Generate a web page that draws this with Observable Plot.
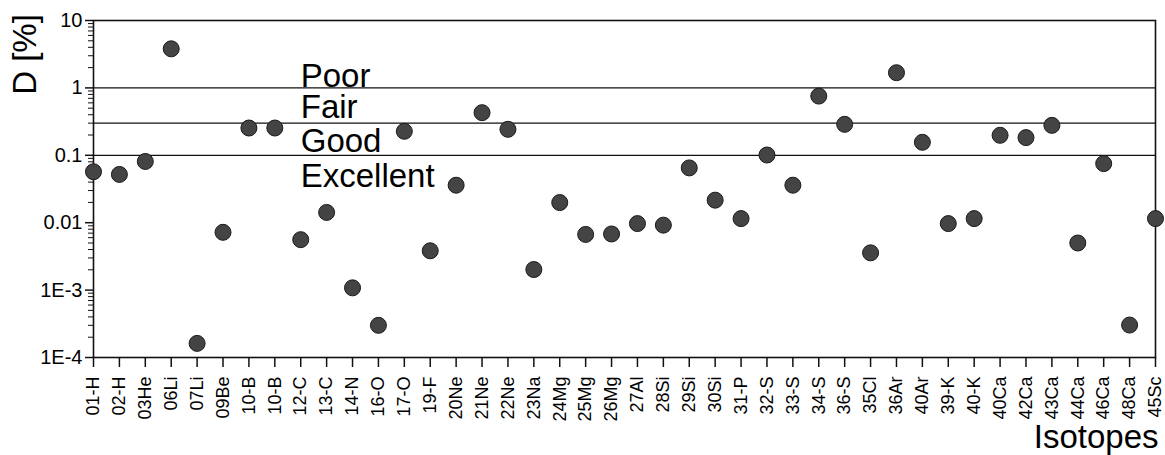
<!DOCTYPE html>
<html><head><meta charset="utf-8">
<script src="https://cdn.jsdelivr.net/npm/d3@7"></script>
<script src="https://cdn.jsdelivr.net/npm/@observablehq/plot@0.6"></script>
<style>
body{margin:0;background:#fff}
svg{display:block}
g[aria-label="y-axis tick label"] text{font-size:20px}
g[aria-label="x-axis tick label"] text{font-size:18px}
</style>
</head><body><div id="chart"></div>
<script>
const isotopes = ["01-H","02-H","03He","06Li","07Li","09Be","10-B","10-B","12-C","13-C","14-N","16-O","17-O","19-F","20Ne","21Ne","22Ne","23Na","24Mg","25Mg","26Mg","27Al","28Si","29Si","30Si","31-P","32-S","33-S","34-S","36-S","35Cl","36Ar","40Ar","39-K","40-K","40Ca","42Ca","43Ca","44Ca","46Ca","48Ca","45Sc"];
const deviation = [0.057,0.052,0.081,3.8,0.000162,0.0072,0.254,0.254,0.0056,0.0142,0.00108,0.0003,0.227,0.00383,0.036,0.429,0.243,0.00202,0.0199,0.0067,0.0068,0.0097,0.0092,0.065,0.0216,0.0115,0.101,0.036,0.756,0.288,0.00357,1.68,0.156,0.0097,0.0115,0.198,0.183,0.278,0.0050,0.0753,0.000303,0.0115];
const yTickValues = [1e-4,1e-3,0.01,0.1,1,10];
const yTickLabels = ["1E-4","1E-3","0.01","0.1","1","10"];
const boundaryValues = [1, 0.3, 0.1];
const qualityLabels = ["Poor","Fair","Good","Excellent"];
const qualityLevels = [1.02, 0.353, 0.111, 0.0336];
const qualityAt = 8;
const yTitle = "D [%]";
const xTitle = "Isotopes";

const rows = isotopes.map((name, i) => ({i, name, d: deviation[i]}));
const minorTicks = [];
for (let e = -4; e < 1; e++) for (let m = 2; m <= 9; m++) minorTicks.push(m * Math.pow(10, e));

const font = "'Liberation Sans', Arial, Helvetica, sans-serif";

const chart = Plot.plot({
  width: 1165,
  height: 455,
  marginLeft: 93,
  marginRight: 10,
  marginTop: 20,
  marginBottom: 98,
  style: {fontFamily: font, background: "#fff", color: "#000", overflow: "visible"},
  x: {type: "point", domain: d3.range(isotopes.length), padding: 0},
  y: {type: "log", domain: [1e-4, 10]},
  marks: [
    Plot.frame({stroke: "#111", strokeWidth: 1.6}),
    Plot.ruleY(boundaryValues, {stroke: "#111", strokeWidth: 1.3}),
    Plot.axisY(minorTicks, {tickSize: 5, tickFormat: () => "", label: null, stroke: "#111"}),
    Plot.axisY(yTickValues, {tickSize: 8, tickPadding: 3, fontSize: 20, label: null,
      tickFormat: v => yTickLabels[yTickValues.indexOf(v)], stroke: "#111", strokeWidth: 1.5}),
    Plot.axisX({tickSize: 10, tickPadding: 9, tickRotate: -90, fontSize: 18, label: null,
      tickFormat: i => isotopes[i], stroke: "#111", strokeWidth: 1.5}),
    Plot.text(qualityLabels, {x: () => qualityAt, y: (d, k) => qualityLevels[k], text: d => d,
      textAnchor: "start", lineAnchor: "bottom", fontSize: 33, fill: "#000"}),
    Plot.dot(rows, {x: "i", y: "d", r: 8, fill: "#444", stroke: "#1a1a1a", strokeWidth: 1}),
    Plot.text([yTitle], {frameAnchor: "top-left", textAnchor: "middle", lineAnchor: "middle",
      dx: -68, dy: 34, rotate: -90, fontSize: 33, fill: "#000"}),
    Plot.text([xTitle], {frameAnchor: "bottom-right", textAnchor: "end", lineAnchor: "bottom",
      dx: 3, dy: 90, fontSize: 33, fill: "#000"})
  ]
});
document.getElementById("chart").appendChild(chart);
</script>
</body></html>
